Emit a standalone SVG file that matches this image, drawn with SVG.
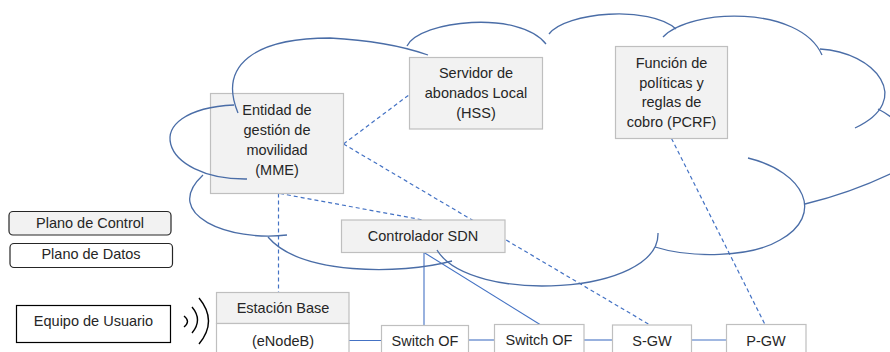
<svg xmlns="http://www.w3.org/2000/svg" width="890" height="352" viewBox="0 0 890 352">
<style>
text{font-family:"Liberation Sans",Arial,sans-serif;font-size:14.5px;fill:#262626;text-anchor:middle}
.g{fill:#f2f2f2;stroke:#bfbfbf;stroke-width:1.2}
.w{fill:#ffffff;stroke:#bfbfbf;stroke-width:1.2}
.lg{stroke:#262626;stroke-width:1.2}
.s{fill:none;stroke:#4472c4;stroke-width:1.1}
.d{fill:none;stroke:#4472c4;stroke-width:1.2;stroke-dasharray:4 3}
.c{fill:none;stroke:#4a6da7;stroke-width:1.3}
.r{fill:none;stroke:#000;stroke-width:1.4}
</style>
<rect width="890" height="352" fill="#fff"/>
<g id="connectors">
<path class="s" d="M349,340.5 H381.5"/>
<path class="s" d="M468.5,340 H494.5"/>
<path class="s" d="M584,340 H612.5"/>
<path class="s" d="M691.5,340 H726.5"/>
<path class="s" d="M424,252.5 V325.5"/>
<path class="s" d="M424,252.5 L540,324.5"/>
<path class="d" d="M343.5,144 L409.5,94.5"/>
<path class="d" d="M343.5,144 L650,325"/>
<path class="d" d="M280,193.5 L423,220"/>
<path class="d" d="M278.5,193.5 V292.5"/>
<path class="d" d="M671.5,138.5 L765,324.5"/>
</g>
<g id="mme"><rect class="g" x="210.5" y="93.5" width="133" height="100"/>
<text x="277" y="115">Entidad de</text><text x="277" y="135">gestión de</text><text x="277" y="155">movilidad</text><text x="277" y="175">(MME)</text></g>
<g id="hss"><rect class="g" x="409.5" y="57.5" width="133" height="71.5"/>
<text x="476" y="78">Servidor de</text><text x="476" y="98">abonados Local</text><text x="476" y="118">(HSS)</text></g>
<g id="pcrf"><rect class="g" x="615.5" y="46.5" width="112" height="92"/>
<text x="671.5" y="67.5">Función de</text><text x="671.5" y="87.5">políticas y</text><text x="671.5" y="107">reglas de</text><text x="671.5" y="127">cobro (PCRF)</text></g>
<g id="sdn"><rect class="g" x="341.5" y="220" width="163.5" height="32.5"/>
<text x="423" y="241">Controlador SDN</text></g>
<g id="estacion"><rect class="g" x="216.5" y="292.5" width="132.5" height="31"/>
<text x="283" y="313">Estación Base</text></g>
<g id="enodeb"><rect class="w" x="216.5" y="323.5" width="132.5" height="40"/>
<text x="283" y="346">(eNodeB)</text></g>
<g id="switch1"><rect class="w" x="381.5" y="325.5" width="87" height="40"/>
<text x="425" y="346">Switch OF</text></g>
<g id="switch2"><rect class="w" x="494.5" y="324.5" width="89.5" height="40"/>
<text x="539" y="345">Switch OF</text></g>
<g id="sgw"><rect class="w" x="612.5" y="325" width="79" height="40"/>
<text x="652" y="346">S-GW</text></g>
<g id="pgw"><rect class="w" x="726.5" y="324.5" width="79.5" height="40"/>
<text x="766" y="346">P-GW</text></g>
<g id="plano-control"><rect class="lg" fill="#f2f2f2" x="9" y="211.5" width="162" height="23.5" rx="4"/>
<text x="90" y="227.5">Plano de Control</text></g>
<g id="plano-datos"><rect class="lg" fill="#fff" x="10" y="243.5" width="162.5" height="24" rx="4"/>
<text x="91" y="259">Plano de Datos</text></g>
<g id="ue"><rect fill="#fff" stroke="#000" stroke-width="1.2" x="16.5" y="305.5" width="154" height="37"/>
<text x="93.5" y="326">Equipo de Usuario</text></g>
<g id="radio">
<path class="r" d="M184,316 Q191,321.5 184,327"/>
<path class="r" d="M192,307 Q203,320 192,333"/>
<path class="r" d="M199,298 Q218,321 199,344"/>
</g>
<g id="cloud">
<path class="c" d="M247,179 C160,180 135,110 234,105"/>
<path class="c" d="M238,113 C218,65 255,38 330,38 C370,40 405,47 428,55"/>
<path class="c" d="M407,46 C420,20 520,10 546,44"/>
<path class="c" d="M549,34 C565,12 650,5 676,29"/>
<path class="c" d="M663,37 C690,8 800,5 822,55"/>
<path class="c" d="M820,49 C875,52 915,100 855,128"/>
<path class="c" d="M878,109 C910,125 925,160 890,174 Q850,193 805,204"/>
<path class="c" d="M748,158 C805,172 825,215 780,240 C750,258 690,258 655,247"/>
<path class="c" d="M658,233 C660,295 470,305 437,250"/>
<path class="c" d="M452,261 C400,275 300,275 268,237"/>
<path class="c" d="M287,235 C230,242 160,215 203,175"/>
</g>
</svg>
